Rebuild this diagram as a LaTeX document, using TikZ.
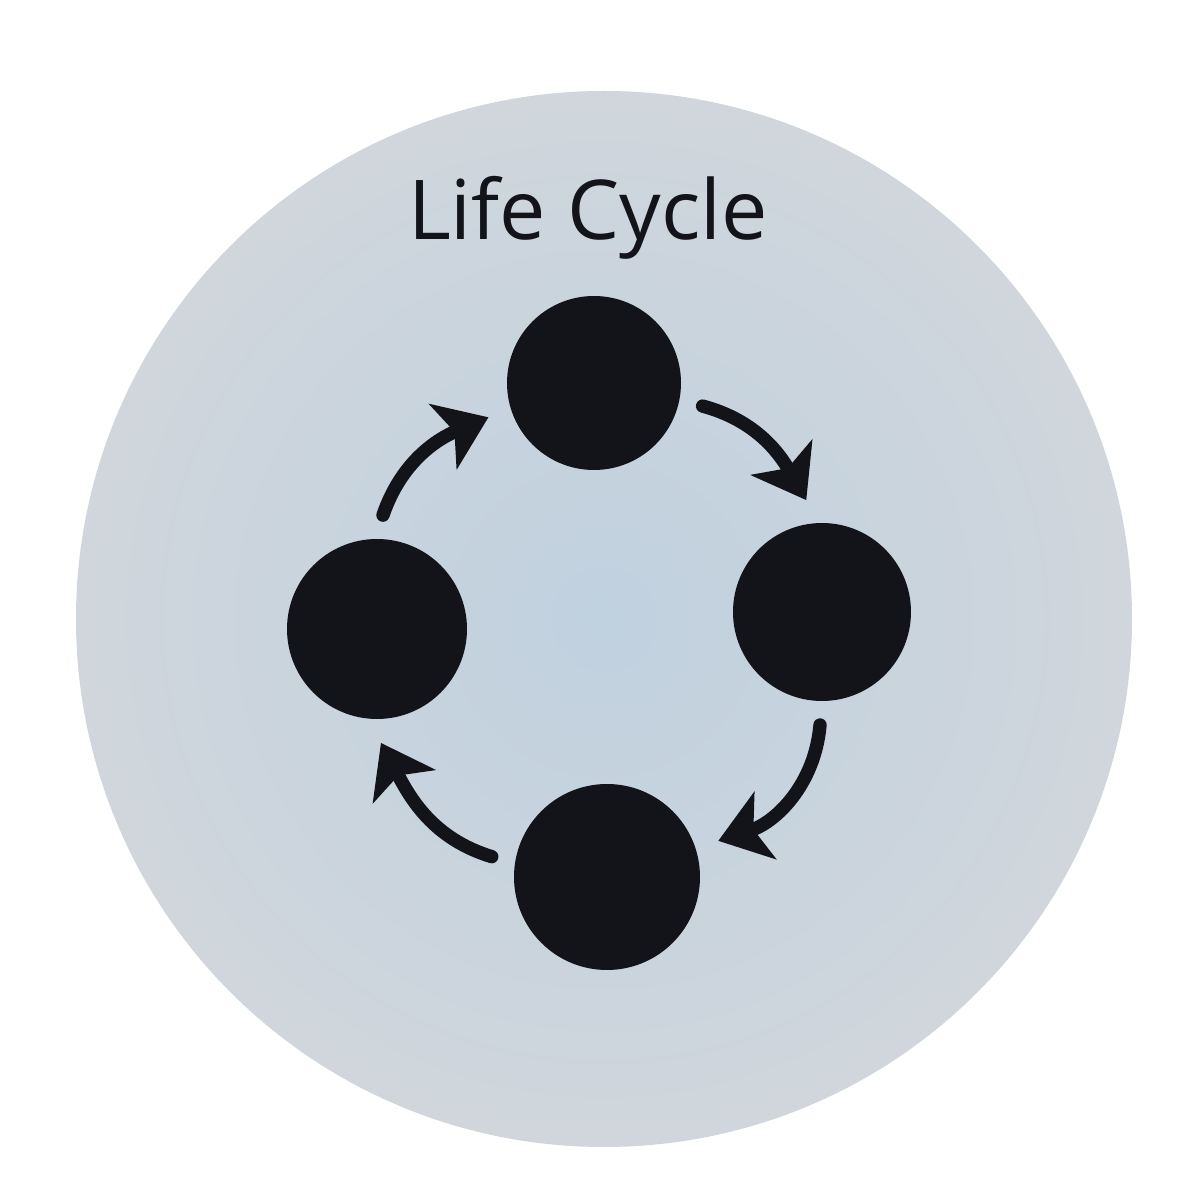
\documentclass[tikz,border=0pt]{standalone}
\usepackage{fontspec}
\setmainfont{Open Sans}
\usetikzlibrary{arrows.meta,positioning}

\definecolor{discgrey}{RGB}{192,209,223}
\definecolor{discrim}{RGB}{208,214,220}
\definecolor{inkblack}{RGB}{18,20,26}

\begin{document}
\begin{tikzpicture}[
        stage/.style={circle, fill=inkblack, inner sep=0pt, outer sep=0.24cm, minimum size=#1},
        turn/.style={line width=3.8pt, line cap=round, draw=inkblack,
            -{Stealth[length=14pt, width=20pt, inset=3.5pt]}}
    ]
        \useasboundingbox (0,0) rectangle (12,12);
        \fill[white] (0,0) rectangle (12,12);
        % the disc
        \shade[inner color=discgrey, outer color=discrim] (6.04,5.81) circle (5.28);
        \node[anchor=base, text=inkblack, font=\fontsize{23.5}{28}\selectfont] (title) at (5.88,9.60) {Life Cycle};
        % the four stages
        \node[stage=1.74cm] (top) at (5.94,8.17) {};
        \node[stage=1.78cm] (right) at (8.22,5.88) {};
        \node[stage=1.86cm] (bottom) at (6.07,3.23) {};
        \node[stage=1.80cm] (left) at (3.77,5.71) {};
        % arrows between them
        \draw[turn] (top.-12) to[out=-15, in=120] (right.98);
        \draw[turn] (right.-91) to[out=-95, in=18] (bottom.18);
        \draw[turn] (bottom.170) to[out=163, in=-62] (left.-88);
        \draw[turn] (left.87) to[out=71, in=203] (top.198);
    \end{tikzpicture}
\end{document}
